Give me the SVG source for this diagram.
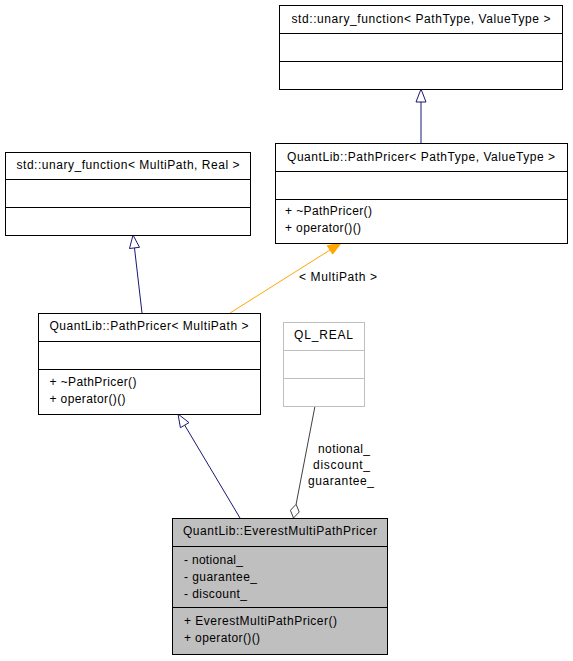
<svg xmlns="http://www.w3.org/2000/svg" width="573" height="661" viewBox="0 0 573 661">
<style>
text{font-family:"Liberation Sans",Arial,sans-serif;font-size:12px;fill:#000}
.c{text-anchor:middle}
.box{fill:#fff;stroke:#000;stroke-width:1}
.gbox{fill:#fff;stroke:#bfbfbf;stroke-width:1}
.cur{fill:#bfbfbf;stroke:#000;stroke-width:1}
.sep{stroke:#000;stroke-width:1}
.gsep{stroke:#bfbfbf;stroke-width:1}
.inh{stroke:#191970;fill:none;stroke-width:1}
.inhh{stroke:#191970;fill:#fff;stroke-width:1}
.tpl{stroke:#ffa500;fill:none;stroke-width:1}
.tplh{stroke:#ffa500;fill:#ffa500;stroke-width:1}
.agg{stroke:#404040;fill:none;stroke-width:1}
.aggh{stroke:#404040;fill:#fff;stroke-width:1}
</style>
<rect width="573" height="661" fill="#fff"/>
<g id="connectors">
<line class="inh" x1="421" y1="143" x2="421" y2="102"/>
<polygon class="inhh" points="421,89 426,102 416,102"/>
<line class="inh" x1="142" y1="313" x2="134.5" y2="248"/>
<polygon class="inhh" points="133,235 139.5,247.3 129.5,248.5"/>
<line class="tpl" x1="230" y1="313" x2="330" y2="250"/>
<polygon class="tplh" points="341,243 332.7,254.1 327.3,245.7"/>
<text class="c" x="338" y="281" textLength="78" lengthAdjust="spacing">&lt; MultiPath &gt;</text>
<line class="inh" x1="240" y1="518" x2="184.7" y2="425.2"/>
<polygon class="inhh" points="178,414 189,422.6 180.4,427.7"/>
<line class="agg" x1="315" y1="406" x2="296.1" y2="504.3"/>
<polygon class="aggh" points="293.5,518 299.2,512 296.1,504.3 290.4,510.3"/>
<text class="c" x="344" y="453" textLength="52" lengthAdjust="spacing">notional_</text>
<text class="c" x="341.5" y="469" textLength="57" lengthAdjust="spacing">discount_</text>
<text class="c" x="341" y="485" textLength="66" lengthAdjust="spacing">guarantee_</text>
</g>
<g id="node-unary-pathtype">
<rect class="box" x="279.5" y="5.5" width="283" height="84"/>
<line class="sep" x1="279.5" y1="33.5" x2="562.5" y2="33.5"/>
<line class="sep" x1="279.5" y1="61.5" x2="562.5" y2="61.5"/>
<text class="c" x="421" y="23" textLength="259" lengthAdjust="spacing">std::unary_function&lt; PathType, ValueType &gt;</text>
</g>
<g id="node-pathpricer-pathtype">
<rect class="box" x="275.5" y="143.5" width="292" height="100"/>
<line class="sep" x1="275.5" y1="171.5" x2="567.5" y2="171.5"/>
<line class="sep" x1="275.5" y1="199.5" x2="567.5" y2="199.5"/>
<text class="c" x="421" y="161" textLength="268" lengthAdjust="spacing">QuantLib::PathPricer&lt; PathType, ValueType &gt;</text>
<text x="285" y="215" textLength="87" lengthAdjust="spacing">+ ~PathPricer()</text>
<text x="285" y="232" textLength="76" lengthAdjust="spacing">+ operator()()</text>
</g>
<g id="node-unary-multipath">
<rect class="box" x="5.5" y="152.5" width="245" height="83"/>
<line class="sep" x1="5.5" y1="179.5" x2="250.5" y2="179.5"/>
<line class="sep" x1="5.5" y1="207.5" x2="250.5" y2="207.5"/>
<text class="c" x="128" y="169" textLength="223" lengthAdjust="spacing">std::unary_function&lt; MultiPath, Real &gt;</text>
</g>
<g id="node-pathpricer-multipath">
<rect class="box" x="38.5" y="313.5" width="222" height="101"/>
<line class="sep" x1="38.5" y1="341.5" x2="260.5" y2="341.5"/>
<line class="sep" x1="38.5" y1="369.5" x2="260.5" y2="369.5"/>
<text class="c" x="149" y="330" textLength="199" lengthAdjust="spacing">QuantLib::PathPricer&lt; MultiPath &gt;</text>
<text x="49.5" y="386" textLength="87" lengthAdjust="spacing">+ ~PathPricer()</text>
<text x="49.5" y="403" textLength="76" lengthAdjust="spacing">+ operator()()</text>
</g>
<g id="node-ql-real">
<rect class="gbox" x="283.5" y="322.5" width="81" height="84"/>
<line class="gsep" x1="283.5" y1="350.5" x2="364.5" y2="350.5"/>
<line class="gsep" x1="283.5" y1="378.5" x2="364.5" y2="378.5"/>
<text class="c" x="323.5" y="339" textLength="59" lengthAdjust="spacing">QL_REAL</text>
</g>
<g id="node-everest">
<rect class="cur" x="172.5" y="518.5" width="215" height="136"/>
<line class="sep" x1="172.5" y1="546.5" x2="387.5" y2="546.5"/>
<line class="sep" x1="172.5" y1="607.5" x2="387.5" y2="607.5"/>
<text class="c" x="280" y="535" textLength="194" lengthAdjust="spacing">QuantLib::EverestMultiPathPricer</text>
<text x="184" y="564" textLength="59" lengthAdjust="spacing">- notional_</text>
<text x="184" y="581" textLength="73" lengthAdjust="spacing">- guarantee_</text>
<text x="184" y="598" textLength="63" lengthAdjust="spacing">- discount_</text>
<text x="184" y="625" textLength="153" lengthAdjust="spacing">+ EverestMultiPathPricer()</text>
<text x="184" y="642" textLength="76" lengthAdjust="spacing">+ operator()()</text>
</g>
</svg>
